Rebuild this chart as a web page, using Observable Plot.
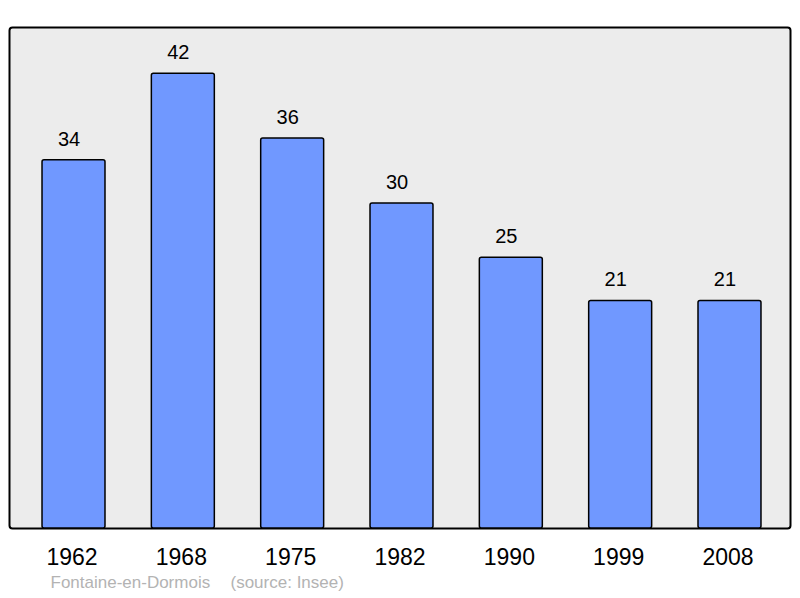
<!DOCTYPE html>
<html>
<head>
<meta charset="utf-8">
<script src="https://cdn.jsdelivr.net/npm/d3@7"></script>
<script src="https://cdn.jsdelivr.net/npm/@observablehq/plot@0.6"></script>
<style>
  html, body { margin: 0; padding: 0; background: #ffffff; }
  svg { display: block; }
</style>
</head>
<body>
<div id="chart"></div>
<script>
const years = ["1962", "1968", "1975", "1982", "1990", "1999", "2008"];
const population = [34, 42, 36, 30, 25, 21, 21];
const placeName = "Fontaine-en-Dormois";
const sourceNote = "(source: Insee)";

const data = years.map((y, i) => ({year: y, value: population[i]}));

const chart = Plot.plot({
  width: 800,
  height: 598,
  marginLeft: 9,
  marginRight: 10,
  marginTop: 27,
  marginBottom: 70,
  style: {fontFamily: "'Liberation Sans', Arial, sans-serif", background: "#ffffff", color: "#000"},
  x: {domain: years, range: [9, 794], round: false, paddingInner: 0.424, paddingOuter: 0.302, align: 0.5},
  y: {domain: [0, 46.26], axis: null},
  marks: [
    Plot.frame({fill: "#ececec", stroke: "#000", strokeWidth: 2, rx: 3}),
    Plot.barY(data, {x: "year", y: "value", fill: "#7098ff", stroke: "#000", strokeWidth: 1.5, rx: 2}),
    Plot.text(data, {x: "year", y: "value", text: d => String(d.value), dx: -5, dy: -21, fontSize: 20, fill: "#000"}),
    Plot.axisX({tickSize: 0, tickPadding: 20, dx: -2, fontSize: 23, label: null, fill: "#000"}),
    Plot.text([placeName], {frameAnchor: "bottom-left", dx: 41, dy: 59, textAnchor: "start", fontSize: 17, fill: "#b3b3b3"}),
    Plot.text([sourceNote], {frameAnchor: "bottom-left", dx: 221, dy: 59, textAnchor: "start", fontSize: 17, fill: "#b3b3b3"})
  ]
});
document.getElementById("chart").appendChild(chart);
</script>
</body>
</html>
